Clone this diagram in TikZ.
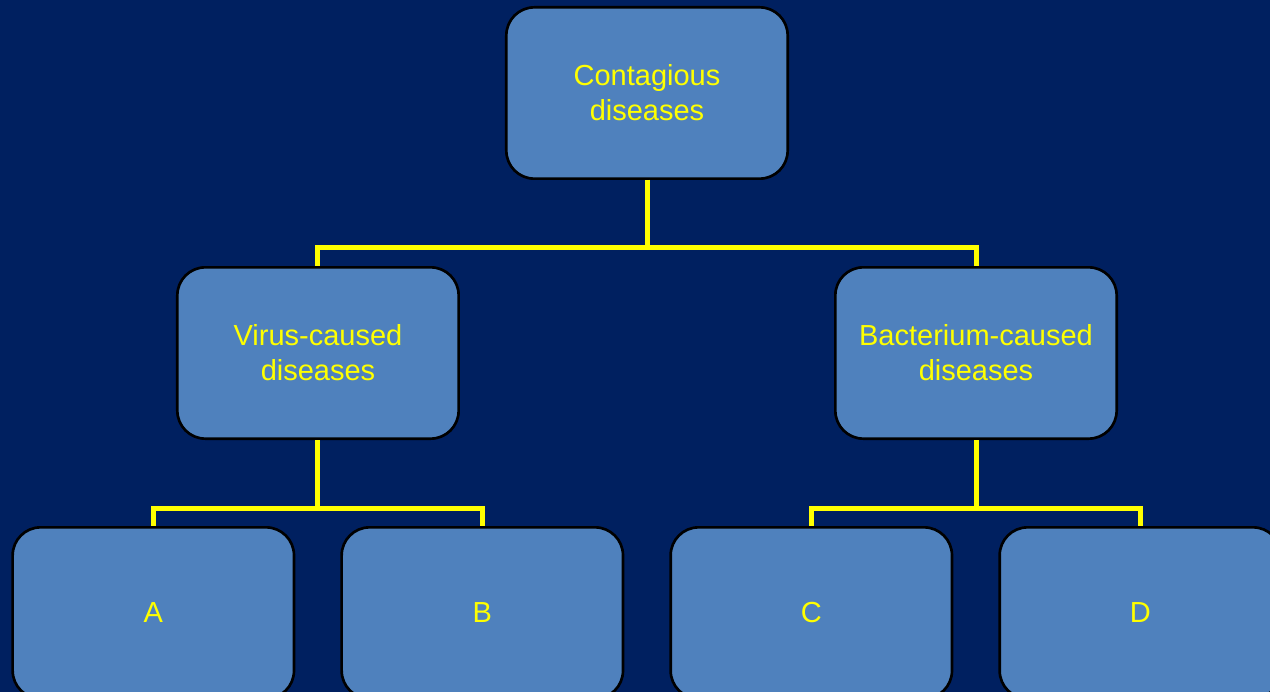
\documentclass[tikz,border=0pt]{standalone}
\usepackage{fontspec}
\setmainfont{Liberation Sans}
\usetikzlibrary{positioning, backgrounds, calc}
\definecolor{colorFondo}{HTML}{002060}
\definecolor{colorCaja}{HTML}{4F81BD}
\definecolor{colorTexto}{HTML}{FFFF00}

\begin{document}
\begin{tikzpicture}[
        node distance=64.5pt and 33.75pt,
        caja/.style={draw=black, fill=colorCaja, line width=2pt, rounded corners=21pt,
            text width=200pt, align=center, minimum width=211pt, minimum height=128.5pt,
            inner sep=0pt, text=colorTexto, font=\fontsize{21.75}{26.25}\selectfont},
        rama/.style={colorTexto, line width=3.75pt}
    ]
        % fondo
        \coordinate (esq) at (-485.25pt,69.75pt);
        \fill[colorFondo] (esq) rectangle ++(952.5pt,-519pt);
        \useasboundingbox (esq) rectangle ++(952.5pt,-519pt);
        \node[caja] (top) at (0,0) {Contagious\\diseases};
        \node[caja, below left=of top] (virus) {Virus-caused\\diseases};
        \node[caja, below right=of top] (bact) {Bacterium-caused\\diseases};
        \node[caja, below=of virus, xshift=-123.5pt] (a) {A};
        \node[caja, right=of a] (b) {B};
        \node[caja, below=of bact, xshift=-123.5pt] (c) {C};
        \node[caja, right=of c] (d) {D};
        % ramas
        \draw[rama] (top.south) -- ++(0,-50.25pt) -| (virus.north);
        \draw[rama] (top.south) -- ++(0,-50.25pt) -| (bact.north);
        \draw[rama] (virus.south) -- ++(0,-51.5pt) -| (a.north);
        \draw[rama] (virus.south) -- ++(0,-51.5pt) -| (b.north);
        \draw[rama] (bact.south) -- ++(0,-51.5pt) -| (c.north);
        \draw[rama] (bact.south) -- ++(0,-51.5pt) -| (d.north);
    \end{tikzpicture}
\end{document}
